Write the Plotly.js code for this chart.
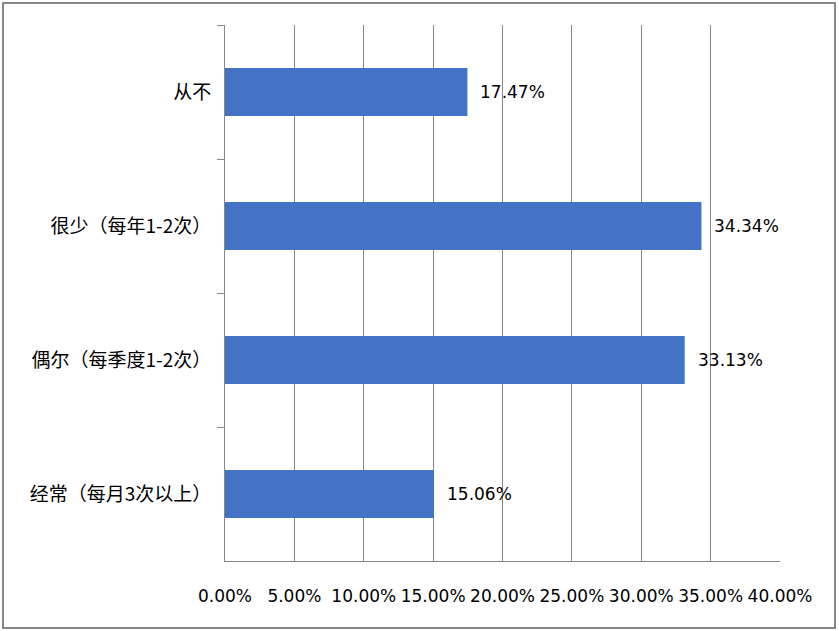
<!DOCTYPE html>
<html>
<head>
<meta charset="utf-8">
<script src="https://cdn.plot.ly/plotly-3.0.1.min.js"></script>
<style>
html,body{margin:0;padding:0;background:#fff;}
#wrap{position:relative;width:839px;height:631px;}
#chart{position:absolute;left:0;top:0;width:839px;height:631px;}
#frame{position:absolute;left:2px;top:2px;width:834px;height:627px;box-sizing:border-box;border:2px solid #868686;pointer-events:none;}
</style>
</head>
<body>
<div id="wrap"><div id="chart"></div><div id="frame"></div></div>
<script>
const categories = ["从不", "很少（每年1-2次）", "偶尔（每季度1-2次）", "经常（每月3次以上）"];
const values = [17.47, 34.34, 33.13, 15.06];
const xTicks = [0, 5, 10, 15, 20, 25, 30, 35, 40];

const gray = "#868686";
const numFont = "DejaVu Sans";
const cjkFont = "Noto Sans CJK SC";

const trace = {
  type: "bar",
  orientation: "h",
  y: categories,
  x: values,
  marker: {color: "#4472C4"},
  width: 0.36,
  hoverinfo: "none"
};

const annotations = values.map((v, i) => ({
  x: v, y: categories[i], xref: "x", yref: "y",
  text: v.toFixed(2) + "%",
  showarrow: false, xanchor: "left", xshift: 11,
  font: {family: numFont, size: 17, color: "#000"}
}));

const layout = {
  width: 839, height: 631,
  margin: {l: 225, r: 59, t: 25, b: 70},
  paper_bgcolor: "#fff", plot_bgcolor: "#fff",
  showlegend: false,
  bargap: 0.64,
  xaxis: {
    range: [0, 40],
    tickvals: xTicks,
    ticktext: xTicks.map(t => t.toFixed(2) + "%"),
    showgrid: true, gridcolor: gray, gridwidth: 1,
    zeroline: false,
    showline: true, linecolor: gray, linewidth: 1,
    ticks: "",
    ticklabelstandoff: 20,
    tickfont: {family: numFont, size: 17, color: "#000"},
    fixedrange: true
  },
  yaxis: {
    type: "category",
    categoryorder: "array", categoryarray: categories,
    autorange: "reversed",
    showgrid: false, zeroline: false,
    showline: true, linecolor: gray, linewidth: 1,
    ticks: "outside", tickson: "boundaries", ticklen: 7, tickcolor: gray, tickwidth: 1,
    ticklabelstandoff: 9,
    tickfont: {family: cjkFont, size: 19, color: "#000"},
    fixedrange: true
  },
  annotations: annotations
};

Plotly.newPlot("chart", [trace], layout, {displayModeBar: false, staticPlot: true});
</script>
</body>
</html>
